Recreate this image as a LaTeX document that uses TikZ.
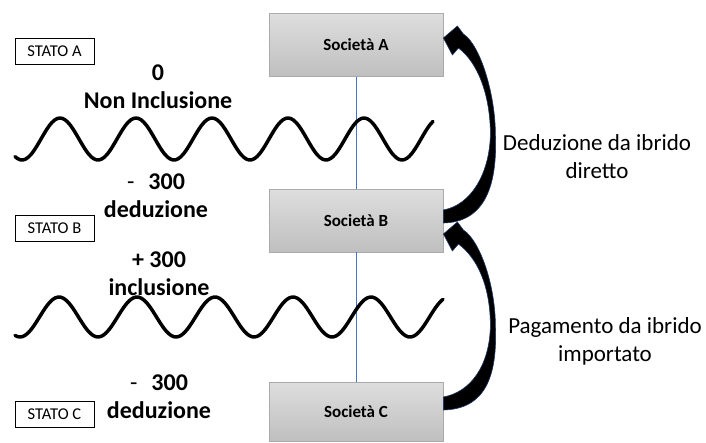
\documentclass[tikz,border=0pt]{standalone}
\usepackage{fontspec}
\setmainfont{Carlito}
\usetikzlibrary{calc}

\definecolor{linkblue}{RGB}{68,114,196}
\definecolor{boxedge}{RGB}{170,170,170}
\definecolor{arrowedge}{RGB}{31,56,100}

\tikzset{
  societa/.style={draw=boxedge, line width=0.8pt, top color=black!13, bottom color=black!25,
    minimum width=174pt, minimum height=63pt, inner sep=0pt,
    font=\fontsize{17}{20}\selectfont\bfseries},
  stato/.style={draw, line width=0.6pt, fill=white, minimum width=79pt, minimum height=26pt,
    inner sep=0pt, font=\fontsize{16.5}{19}\selectfont},
  flusso/.style={align=center, inner sep=0pt, font=\fontsize{24}{28}\selectfont\bfseries},
  nota/.style={align=center, inner sep=0pt, font=\fontsize{23}{28}\selectfont},
  wave/.style={line width=3.5pt, line cap=round, line join=round},
  hyarrow/.style={fill=black, draw=arrowedge, line width=0.6pt, line join=round}
}

% tapered curved arrow: #1 tail point, #2 tip point
\newcommand{\hybarrow}[2]{%
  \coordinate (hm) at ($(#1)!0.5!(#2)$);
  \filldraw[hyarrow] ($(#1)+(0,6.5)$) .. controls ($(#1)+(42,5.5)$) and ($(hm)+(54,58)$) .. ($(hm)+(52,8)$)
    .. controls ($(hm)+(52,-32)$) and ($(#2)+(37,8)$) .. ($(#2)+(20,-3)$)
    -- ($(#2)+(14,-11)$) -- ($(#2)+(0,1)$) -- ($(#2)+(9,18)$) -- ($(#2)+(15,11)$)
    .. controls ($(#2)+(34,25)$) and ($(hm)+(47,-32)$) .. ($(hm)+(47,8)$)
    .. controls ($(hm)+(46,48)$) and ($(#1)+(27,-11.5)$) .. ($(#1)+(0,-6.5)$) -- cycle;}

\begin{document}
\begin{tikzpicture}[x=1pt, y=-1pt]
    \useasboundingbox (0,0) rectangle (706,442);

    % societies
    \node[societa] (sA) at (356,45) {Società A};
    \node[societa] (sB) at (356,220.5) {Società B};
    \node[societa, minimum height=59pt] (sC) at (356,411.5) {Società C};

    % states
    \node[stato] (stA) at (54.5,51) {STATO A};
    \node[stato] (stB) at (54.5,228) {STATO B};
    \node[stato] (stC) at (54.5,414.5) {STATO C};

    % links between societies
    \draw[linkblue, line width=0.8pt] (sA.south) -- (sB.north);
    \draw[linkblue, line width=0.8pt] (sB.south) -- (sC.north);

    % borders between states
    \draw[wave] plot[domain=15:433, samples=160, smooth] (\x, {139 + 21*cos((\x-22)/76*360)});
    \draw[wave] plot[domain=15:443, samples=160, smooth] (\x, {317 + 20*cos((\x-20)/78*360)});

    % amounts
    \node[flusso] (incA) at (158,87) {0\\Non Inclusione};
    \node[flusso] (dedB) at (156,196) {{\mdseries -}\hspace{14pt}300\\deduzione};
    \node[flusso] (incB) at (159,273.5) {+ 300\\inclusione};
    \node[flusso] (dedC) at (159,397) {{\mdseries -}\hspace{14pt}300\\deduzione};

    % hybrid flows
    \coordinate (tailB) at ([yshift=4pt]sB.east);
    \coordinate (tipA) at ([yshift=8pt]sA.east);
    \coordinate (tailC) at ([yshift=8pt]sC.east);
    \coordinate (tipB) at ([yshift=-12.5pt]sB.east);
    \hybarrow{tailB}{tipA}
    \hybarrow{tailC}{tipB}

    \node[nota] (lblAB) at (597,157) {Deduzione da ibrido\\diretto};
    \node[nota] (lblBC) at (605,341) {Pagamento da ibrido\\importato};
\end{tikzpicture}
\end{document}
